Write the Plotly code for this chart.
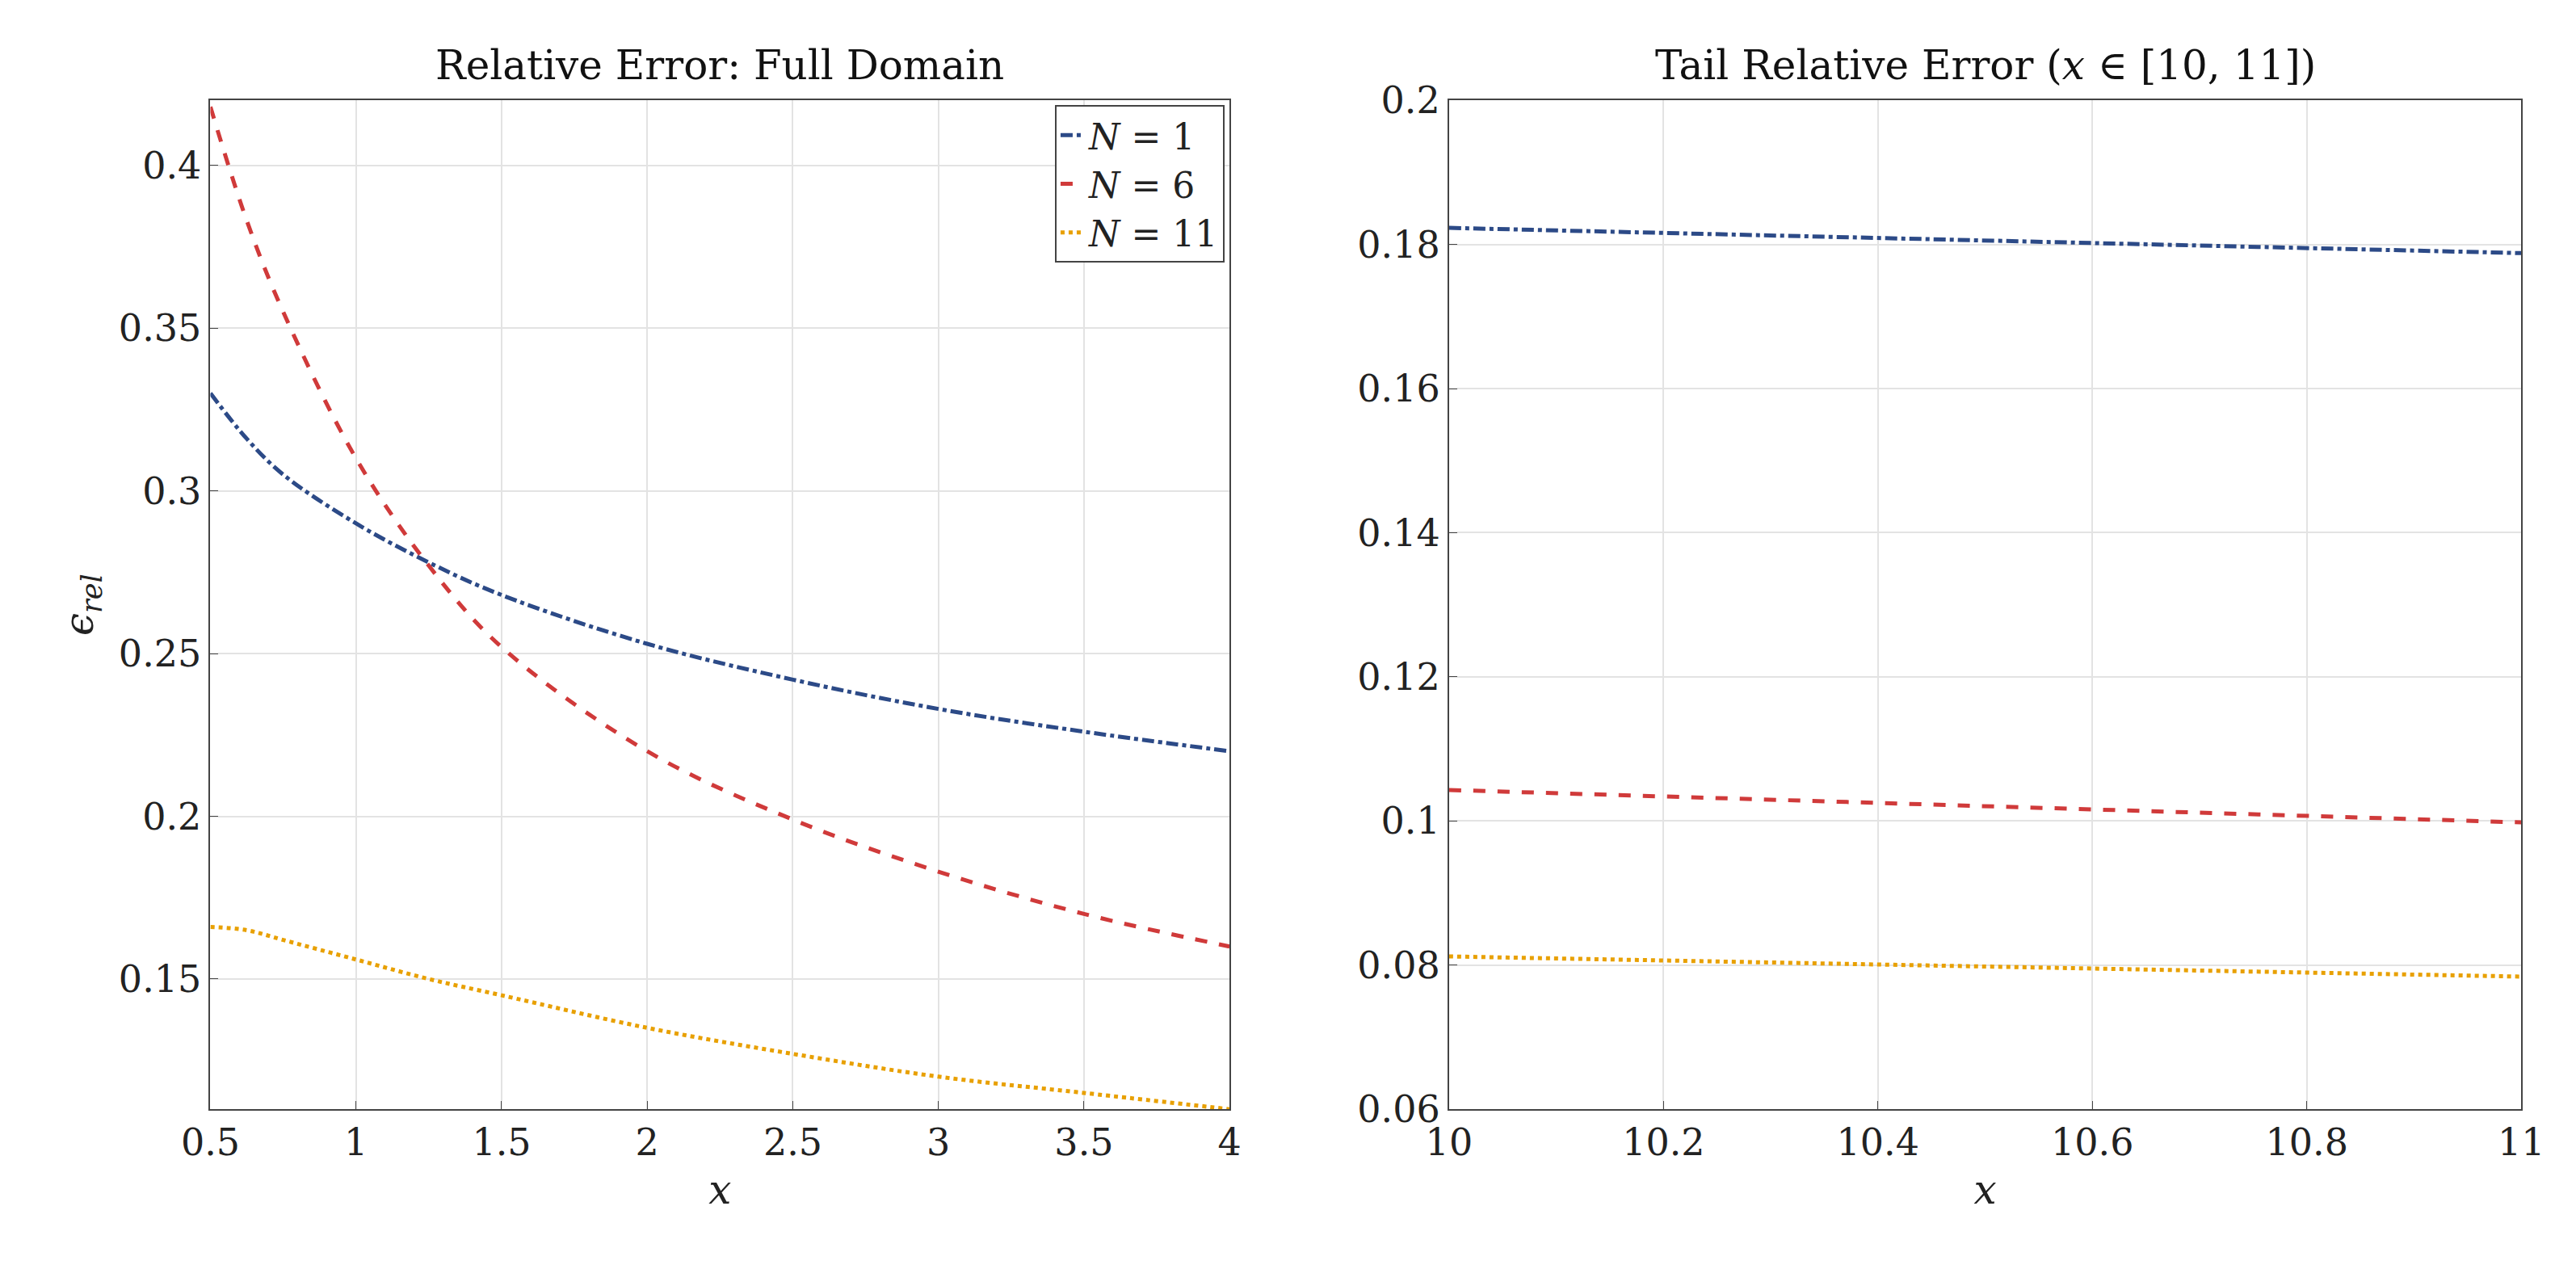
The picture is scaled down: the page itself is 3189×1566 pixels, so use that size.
import plotly.graph_objects as go
from plotly.subplots import make_subplots

# left panel: full domain
x_full = [0.5, 0.625, 0.75, 1.0, 1.25, 1.5, 2.0, 2.5, 3.0, 3.5, 4.0]
err_n1 = [0.330, 0.316, 0.305, 0.290, 0.278, 0.268, 0.253, 0.242, 0.233, 0.226, 0.220]
err_n6 = [0.418, 0.383, 0.355, 0.310, 0.277, 0.252, 0.220, 0.199, 0.183, 0.170, 0.160]
err_n11 = [0.166, 0.165, 0.162, 0.156, 0.150, 0.145, 0.135, 0.127, 0.120, 0.115, 0.110]

# right panel: tail
x_tail = [10.0, 10.5, 11.0]
tail_n1 = [0.1823, 0.1805, 0.1788]
tail_n6 = [0.1043, 0.1020, 0.0998]
tail_n11 = [0.0812, 0.0798, 0.0784]

names = ["<i>N</i> = 1", "<i>N</i> = 6", "<i>N</i> = 11"]
colors = ["#2c4a87", "#d03a3a", "#e8a000"]
dashes = ["dashdot", "dash", "dot"]

FONT = "DejaVu Serif"
TOP = 0.941
BOTTOM = 0.115

fig = make_subplots(rows=1, cols=2, horizontal_spacing=0.09,
                    subplot_titles=["Relative Error: Full Domain",
                                    "Tail Relative Error (<i>x</i> ∈ [10, 11])"])

for i, ys in enumerate([err_n1, err_n6, err_n11]):
    fig.add_trace(go.Scatter(x=x_full, y=ys, mode="lines", name=names[i], line_shape="spline",
                             line=dict(color=colors[i], dash=dashes[i], width=5)), row=1, col=1)
for i, ys in enumerate([tail_n1, tail_n6, tail_n11]):
    fig.add_trace(go.Scatter(x=x_tail, y=ys, mode="lines", showlegend=False,
                             line=dict(color=colors[i], dash=dashes[i], width=5)), row=1, col=2)

axis_style = dict(showline=True, linecolor="#444", linewidth=2, mirror=True, ticks="inside",
                  ticklen=10, tickcolor="#444", showgrid=True, gridcolor="#e3e3e3", gridwidth=2,
                  zeroline=False, tickfont=dict(size=46, family=FONT, color="#222"))

fig.update_xaxes(axis_style)
fig.update_yaxes(axis_style)
fig.update_xaxes(range=[0.5, 4], dtick=0.5, domain=[0.069, 0.473], row=1, col=1,
                 title=dict(text="<i>x</i>", font=dict(size=50, family=FONT), standoff=15))
fig.update_xaxes(range=[10, 11], dtick=0.2, domain=[0.560, 0.985], row=1, col=2,
                 title=dict(text="<i>x</i>", font=dict(size=50, family=FONT), standoff=15))
fig.update_yaxes(range=[0.11, 0.42], tickvals=[0.15, 0.2, 0.25, 0.3, 0.35, 0.4],
                 ticktext=["0.15", "0.2", "0.25", "0.3", "0.35", "0.4"], domain=[BOTTOM, TOP], row=1, col=1,
                 title=dict(text="<i>ϵ<sub>rel</sub></i>", font=dict(size=50, family=FONT), standoff=15))
fig.update_yaxes(range=[0.06, 0.2], dtick=0.02, domain=[BOTTOM, TOP], row=1, col=2)

centers = [(0.069 + 0.473) / 2, (0.560 + 0.985) / 2]
for ann, cx in zip(fig.layout.annotations, centers):
    ann.font = dict(size=50, family=FONT, color="#111")
    ann.x = cx
    ann.y = TOP + 0.008
    ann.yanchor = "bottom"

fig.update_layout(
    width=3189, height=1566, plot_bgcolor="white", paper_bgcolor="white",
    margin=dict(l=0, r=0, t=0, b=0),
    font=dict(family=FONT, color="#222"),
    legend=dict(x=0.471, y=0.937, xanchor="right", yanchor="top", bgcolor="white",
                bordercolor="#444", borderwidth=2, font=dict(size=44, family=FONT)),
)

fig.write_html("out.html")
